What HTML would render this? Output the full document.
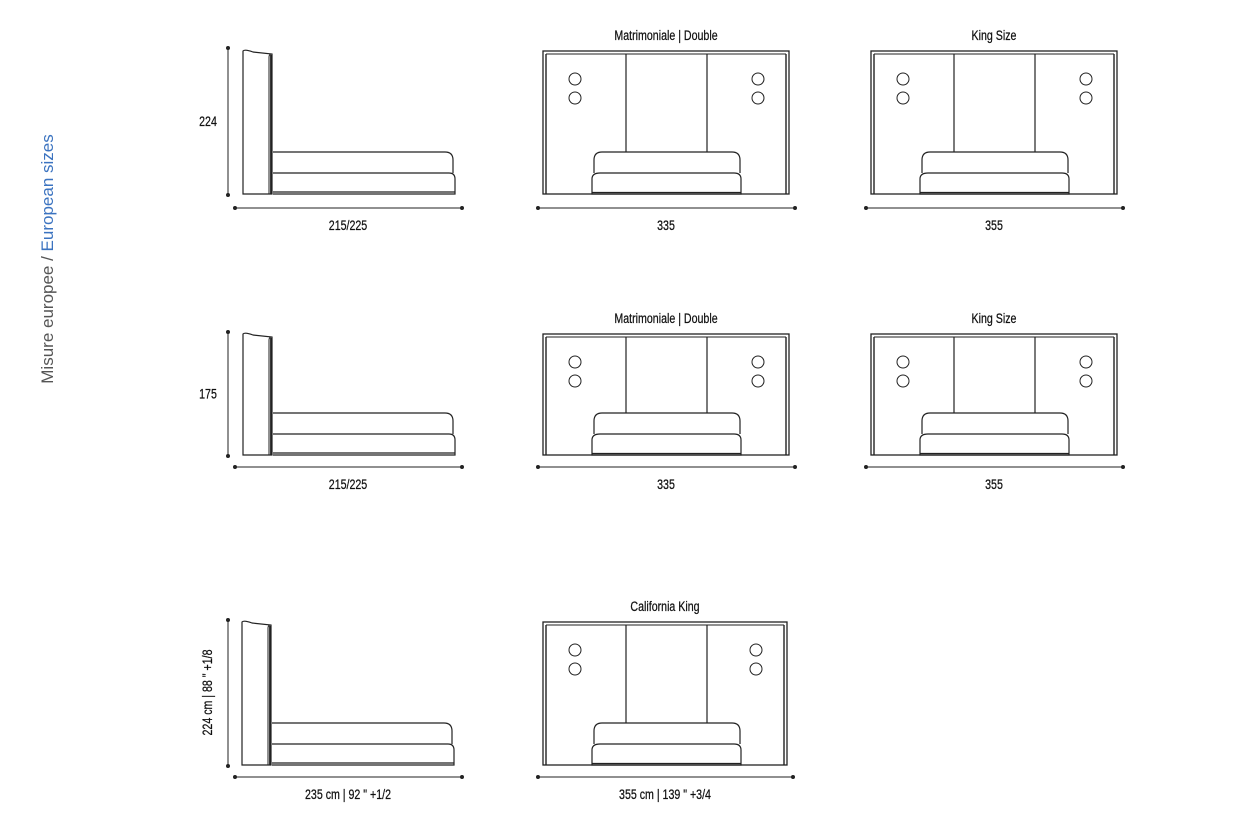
<!DOCTYPE html>
<html><head><meta charset="utf-8"><style>
html,body{margin:0;padding:0;background:#fff;width:1246px;height:816px;overflow:hidden}
svg{display:block}
text{font-family:"Liberation Sans",sans-serif;fill:#111}
</style></head><body>
<svg id="s" width="1246" height="816" viewBox="0 0 1246 816" xmlns="http://www.w3.org/2000/svg">
<text transform="translate(53,259) rotate(-90)" text-anchor="middle" font-size="17" style="fill:#555">Misure europee / <tspan style="fill:#3b73c0">European sizes</tspan></text>
</svg>
<script>
var s=document.getElementById('s'),h='';
function L(x1,y1,x2,y2,w){h+='<line x1="'+x1+'" y1="'+y1+'" x2="'+x2+'" y2="'+y2+'" stroke="#222" stroke-width="'+(w||1.2)+'"/>';}
function dot(x,y){h+='<circle cx="'+x+'" cy="'+y+'" r="2" fill="#222"/>';}
function T(x,y,t,rot){h+='<text transform="translate('+x+','+y+')'+(rot?' rotate(-90)':'')+' scale(0.76,1)" text-anchor="middle" font-size="14" style="stroke:#111;stroke-width:0.25">'+t+'</text>';}
function cushions(x1,x2,yt,ym,yb){
 h+='<path d="M'+x1+' '+ym+' V'+(yt+8)+' Q'+x1+' '+yt+' '+(x1+8)+' '+yt+' H'+(x2-8)+' Q'+x2+' '+yt+' '+x2+' '+(yt+8)+' V'+ym+'" fill="none" stroke="#222" stroke-width="1.2"/>';
 h+='<path d="M'+(x1-2)+' '+yb+' V'+(ym+6)+' Q'+(x1-2)+' '+ym+' '+(x1+6)+' '+ym+' H'+(x2-6)+' Q'+(x2+1)+' '+ym+' '+(x2+1)+' '+(ym+6)+' V'+yb+' Z" fill="none" stroke="#222" stroke-width="1.2"/>';
 L(x1-2,yb-1.5,x2+1,yb-1.5,1.2);
}
function front(x,y,w,hgt,title,dimY,dimT){
 var b=y+hgt;
 h+='<rect x="'+x+'" y="'+y+'" width="'+w+'" height="'+hgt+'" fill="none" stroke="#222" stroke-width="1.3"/>';
 L(x+3,y+3,x+w-3,y+3,1);L(x+3,y+3,x+3,b,1.4);L(x+w-3,y+3,x+w-3,b,1.4);
 var d1=x+83,d2=x+164,bt=b-42;
 L(d1,y+3,d1,bt,1.2);L(d2,y+3,d2,bt,1.2);
 [[x+32],[x+w-31]].forEach(function(c){h+='<circle cx="'+c[0]+'" cy="'+(y+28)+'" r="6" fill="none" stroke="#222" stroke-width="1"/><circle cx="'+c[0]+'" cy="'+(y+47)+'" r="6" fill="none" stroke="#222" stroke-width="1"/>';});
 cushions(x+51,x+197,bt,b-21,b);
 if(title)T(x+w/2,y-11,title);
 L(x-5,dimY,x+w+6,dimY,1);dot(x-5,dimY);dot(x+w+6,dimY);
 T(x+w/2,dimY+22,dimT);
}
function side(x,y,hgt,vdot1,dimY,lab,rot,dimT){
 var b=y+hgt;
 L(228,vdot1,228,b+1,1);dot(228,vdot1);dot(228,b+1);
 h+='<path d="M'+x+' '+b+' V'+y+' Q'+(x+2)+' '+(y-2)+' '+(x+10)+' '+(y+1)+' L'+(x+29)+' '+(y+3)+' V'+b+' Z" fill="none" stroke="#222" stroke-width="1.2"/>';
 h+='<path d="M'+(x+26)+' '+b+' V'+(y+6)+' Q'+(x+26)+' '+(y+3)+' '+(x+29)+' '+(y+3)+'" fill="none" stroke="#222" stroke-width="1"/>';
 L(x+28,y+4,x+28,b,1.8);
 var bt=b-42,xe=x+210;
 h+='<path d="M'+(x+30)+' '+bt+' H'+(xe-8)+' Q'+xe+' '+bt+' '+xe+' '+(bt+8)+' V'+(b-21)+'" fill="none" stroke="#222" stroke-width="1.2"/>';
 h+='<path d="M'+(x+30)+' '+(b-21)+' H'+(xe-4)+' Q'+(xe+2)+' '+(b-21)+' '+(xe+2)+' '+(b-15)+' V'+b+' H'+(x+30)+'" fill="none" stroke="#222" stroke-width="1.2"/>';
 L(x+30,b-2,xe+2,b-2,1.2);
 L(235,dimY,462,dimY,1);dot(235,dimY);dot(462,dimY);
 T(348,dimY+22,dimT);
 if(rot)T(212,(vdot1+b)/2,lab,true);else T(208,(vdot1+b)/2+5,lab);
}
side(243,51,143,48,208,'224',false,'215/225');
front(543,51,246,143,'Matrimoniale | Double',208,'335');
front(871,51,246,143,'King Size',208,'355');
side(243,334,121,332,467,'175',false,'215/225');
front(543,334,246,121,'Matrimoniale | Double',467,'335');
front(871,334,246,121,'King Size',467,'355');
side(242,622,143,620,777,'224 cm | 88 " +1/8',true,'235 cm | 92 " +1/2');
front(543,622,244,143,'California King',777,'355 cm | 139 " +3/4');
s.insertAdjacentHTML('beforeend',h);
</script>
</body></html>
